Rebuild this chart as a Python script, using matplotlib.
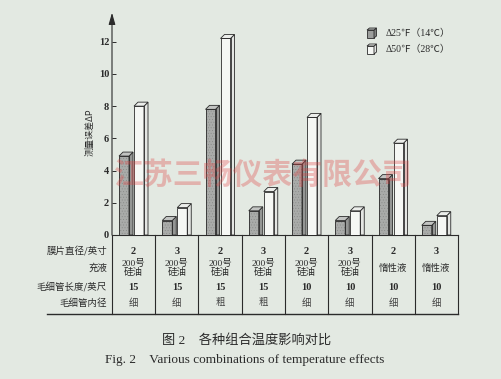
import matplotlib
matplotlib.use("Agg")
import matplotlib.pyplot as plt
from matplotlib.patches import Polygon, Rectangle

# ---- data -------------------------------------------------------------
groups = list(range(8))
dp_25F = [4.9, 0.9, 7.8, 1.5, 4.4, 0.9, 3.5, 0.6]      # Δ25℉ (14℃)
dp_50F = [8.0, 1.7, 12.2, 2.7, 7.3, 1.5, 5.7, 1.2]     # Δ50℉ (28℃)
yticks = [0, 2, 4, 6, 8, 10, 12]

row_labels = ["膜片直径/英寸", "充液", "毛细管长度/英尺", "毛细管内径"]
diameter = ["2", "3", "2", "3", "2", "3", "2", "3"]
fill_liquid = ["200号\n硅油", "200号\n硅油", "200号\n硅油", "200号\n硅油",
               "200号\n硅油", "200号\n硅油", "惰性液", "惰性液"]
cap_length = ["15", "15", "15", "15", "10", "10", "10", "10"]
cap_bore = ["细", "细", "粗", "粗", "细", "细", "细", "细"]

legend_labels = ["Δ25℉（14℃）", "Δ50℉（28℃）"]
watermark = "江苏三畅仪表有限公司"
caption_cn = "图 2    各种组合温度影响对比"
caption_en = "Fig. 2    Various combinations of temperature effects"
ylabel = "测量误差ΔP"

# ---- style ------------------------------------------------------------
BG = "#e3e9e2"
INK = "#2b2b2b"
CJK = ["Noto Sans CJK SC", "DejaVu Sans"]
SERIF_CJK = ["Liberation Serif", "Noto Sans CJK SC", "DejaVu Sans"]
plt.rcParams["hatch.linewidth"] = 0.3

W, H = 501, 379
fig = plt.figure(figsize=(W / 100, H / 100), dpi=100, facecolor=BG)

# plot region in pixel terms
x0, x1 = 112, 458
y_zero, y_top = 235, 12.7
px_per_unit = (235 - 41.7) / 12.0
ax = fig.add_axes([x0 / W, (H - y_zero) / H, (x1 - x0) / W, (y_zero - y_top) / H])
ax.set_facecolor("none")
ax.set_xlim(0, len(groups))
ax.set_ylim(0, (y_zero - y_top) / px_per_unit)

col_px = (x1 - x0) / len(groups)
bw = 10 / col_px            # front width of a bar
dx = 4 / col_px             # depth offset (x)
dy = 4 / px_per_unit        # depth offset (y)
off_a = 7 / col_px
off_b = 22 / col_px


def bar3d(x, v, front, side, top, hatch=None):
    ax.bar(x, v, width=bw, align="edge", color=front, edgecolor="#858785",
           linewidth=0, hatch=hatch, zorder=3)
    ax.bar(x, v, width=bw, align="edge", fill=False, edgecolor=INK,
           linewidth=0.6, zorder=4)
    ax.add_patch(Polygon([(x + bw, 0), (x + bw + dx, 0), (x + bw + dx, v + dy),
                          (x + bw, v)], closed=True, facecolor=side,
                         edgecolor=INK, linewidth=0.6, zorder=3))
    ax.add_patch(Polygon([(x, v), (x + dx, v + dy), (x + bw + dx, v + dy),
                          (x + bw, v)], closed=True, facecolor=top,
                         edgecolor=INK, linewidth=0.6, zorder=3))


for g, a, b in zip(groups, dp_25F, dp_50F):
    bar3d(g + off_a, a, "#a9aba9", "#949694", "#c2c4c2", hatch="......")
    bar3d(g + off_b, b, "#f5f7f4", "#e4e6e3", "#eceeeb")

for s in ["top", "right", "left"]:
    ax.spines[s].set_visible(False)
ax.spines["bottom"].set_color(INK)
ax.spines["bottom"].set_linewidth(0.8)
ax.set_xticks([])
ax.set_yticks(yticks)
ax.tick_params(axis="y", direction="in", length=3, width=0.7, color=INK,
               pad=2, labelsize=7.5, labelcolor=INK)
for lab in ax.get_yticklabels():
    lab.set_fontfamily("Liberation Serif")
    lab.set_fontweight("bold")
ax.annotate("", xy=(0, 1), xytext=(0, 0), xycoords="axes fraction",
            arrowprops=dict(arrowstyle="-|>,head_length=0.7,head_width=0.2",
                            lw=0.8, color=INK, shrinkA=0, shrinkB=0))

# ---- overlay in pixel coordinates: table, legend, captions -------------
ov = fig.add_axes([0, 0, 1, 1], zorder=5)
ov.set_xlim(0, W)
ov.set_ylim(H, 0)
ov.axis("off")
ov.patch.set_visible(False)


def to_px(xd, yd):
    disp = ax.transData.transform((xd, yd))
    return ov.transData.inverted().transform(disp)


table_bottom = 314
col_edges = [to_px(i, 0)[0] for i in range(len(groups) + 1)]
for xe in col_edges:
    ov.plot([xe, xe], [y_zero, table_bottom], color=INK, lw=0.8)
ov.plot([47, col_edges[-1]], [table_bottom, table_bottom], color=INK, lw=1.0)

row_y = [251, 268, 287, 303]
for lab, yy in zip(row_labels, row_y):
    ov.text(107, yy, lab, ha="right", va="center", fontsize=6.8,
            family=CJK, color=INK)

for i in groups:
    cx = (col_edges[i] + col_edges[i + 1]) / 2
    ov.text(cx, row_y[0], diameter[i], ha="center", va="center", fontsize=7.5,
            family="Liberation Serif", weight="bold", color=INK)
    ov.text(cx, row_y[1], fill_liquid[i], ha="center", va="center",
            fontsize=6.8, family=SERIF_CJK, color=INK, linespacing=0.9)
    ov.text(cx, row_y[2], cap_length[i], ha="center", va="center",
            fontsize=7.5, family="Liberation Serif", weight="bold", color=INK)
    ov.text(cx, row_y[3], cap_bore[i], ha="center", va="center",
            fontsize=6.8, family=CJK, color="#444444")

# legend
for (ly, front, side, top), lab in zip(
        [(30, "#9c9e9c", "#7f817f", "#b8bab8"), (46, "#f5f7f4", "#e2e4e1", "#eceeeb")],
        legend_labels):
    ov.add_patch(Rectangle((367, ly), 7, 8, facecolor=front, edgecolor=INK, lw=0.6))
    ov.add_patch(Polygon([(374, ly), (376.5, ly - 2), (376.5, ly + 6), (374, ly + 8)],
                         closed=True, facecolor=side, edgecolor=INK, lw=0.6))
    ov.add_patch(Polygon([(367, ly), (369.5, ly - 2), (376.5, ly - 2), (374, ly)],
                         closed=True, facecolor=top, edgecolor=INK, lw=0.6))
    ov.text(386, ly + 3, lab, ha="left", va="center", fontsize=7,
            family=SERIF_CJK, color=INK)

# y axis title
ov.text(90, 132, ylabel, rotation=90, ha="center", va="center", fontsize=6.5,
        family=CJK, color=INK)

# captions
ov.text(247, 340, caption_cn, ha="center", va="center", fontsize=9.5,
        family=SERIF_CJK, color=INK)
ov.text(245, 360, caption_en, ha="center", va="center", fontsize=9.5,
        family="Liberation Serif", color=INK)

# red company stamp across the plot
ov.text(263, 175, watermark, ha="center", va="center", fontsize=21.5,
        family=CJK, weight="bold", color="#e04848", alpha=0.34)

fig.savefig("out.png", dpi=100, facecolor=BG)
